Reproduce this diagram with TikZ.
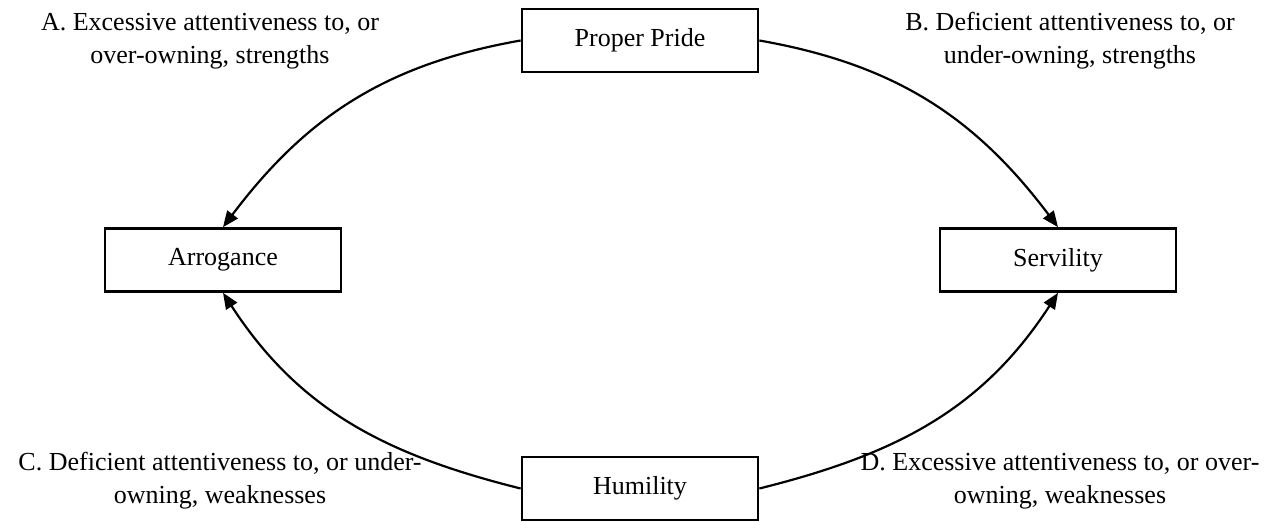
\documentclass[tikz,border=0pt]{standalone}
\usepackage{fontspec}
\setmainfont{Liberation Serif}
\usetikzlibrary{arrows.meta}
\definecolor{ink}{HTML}{000000}
\tikzset{
  font=\fontsize{13}{16.5}\selectfont,
  trait/.style={rectangle, draw=ink, line width=1.35pt, fill=white, text=ink,
                align=center, minimum width=118pt, minimum height=31.5pt},
  anno/.style={text=ink, align=center, inner sep=0pt},
  drift/.style={-{Triangle[length=8pt, width=6.5pt]}, draw=ink, line width=1.1pt},
}

\begin{document}
\begin{tikzpicture}[x=0.5pt, y=0.5pt]
\useasboundingbox (0,0) rectangle (1275,-522);

% --- the four traits ---
\node[trait] (pride)  at (640, -40.5) {Proper Pride};
\node[trait] (arrog)  at (223, -260)  {Arrogance};
\node[trait] (servil) at (1058, -260) {Servility};
\node[trait] (humil)  at (640, -488.5) {Humility};

% --- attentiveness labels ---
\node[anno] (lblA) at (210, -41)  {A. Excessive attentiveness to, or\\ over-owning, strengths};
\node[anno] (lblB) at (1070, -41) {B. Deficient attentiveness to, or\\ under-owning, strengths};
\node[anno] (lblC) at (220, -481) {C. Deficient attentiveness to, or under-\\ owning, weaknesses};
\node[anno] (lblD) at (1060, -481) {D. Excessive attentiveness to, or over-\\ owning, weaknesses};

% --- curved arrows ---
\draw[drift] (pride.west)  to[out=190, in=53]   (arrog.north);
\draw[drift] (pride.east)  to[out=-10, in=127]  (servil.north);
\draw[drift] (humil.west)  to[out=166, in=-57]  (arrog.south);
\draw[drift] (humil.east)  to[out=14,  in=-123] (servil.south);

\end{tikzpicture}
\end{document}
